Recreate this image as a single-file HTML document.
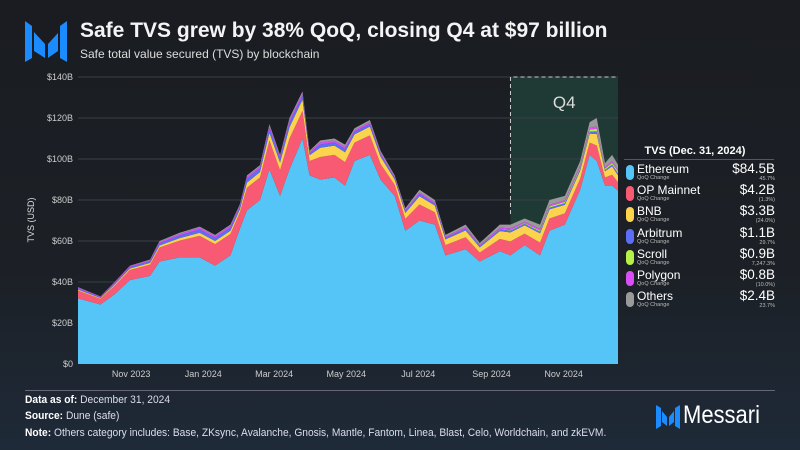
<!DOCTYPE html>
<html><head><meta charset="utf-8"><style>
body{margin:0;width:800px;height:450px;overflow:hidden;background:linear-gradient(180deg,#1a1c21 0%,#1c2026 60%,#1e2a38 100%);font-family:"Liberation Sans",sans-serif;color:#fff;position:relative}
.t{position:absolute;white-space:nowrap}
.foot{font-size:11px;color:#dde;transform:scaleX(0.93);transform-origin:left}
.foot b{color:#fff}
</style></head><body>
<svg width="800" height="450" style="position:absolute;left:0;top:0">
<polygon points="25,21 32,26 32,58 25,62" fill="#1a8cff"/>
<polygon points="34,32 45,44 45,58 34,51" fill="#1a8cff"/>
<polygon points="48,44 58,33 58,51 48,58" fill="#1a8cff"/>
<polygon points="60,26 67,21 67,62 60,58" fill="#1a8cff"/>
</svg>
<div class="t" style="left:80px;top:19px;font-size:21px;font-weight:bold;color:#f4f4f4">Safe TVS grew by 38% QoQ, closing Q4 at $97 billion</div>
<div class="t" style="left:80px;top:47px;font-size:12px;color:#ddd">Safe total value secured (TVS) by blockchain</div>
<svg id="chart" width="800" height="450" style="position:absolute;left:0;top:0"></svg>
<div class="t" style="left:630px;top:145px;font-size:11px;font-weight:bold;width:130px;text-align:center">TVS (Dec. 31, 2024)</div>
<div style="position:absolute;left:624px;top:159px;width:150px;height:1px;background:#556"></div>
<div id="legend"></div>
<div style="position:absolute;left:25px;top:390px;width:750px;height:1px;background:#667"></div>
<div class="t foot" style="left:25px;top:394px"><b>Data as of:</b> December 31, 2024</div>
<div class="t foot" style="left:25px;top:410px"><b>Source:</b> Dune (safe)</div>
<div class="t foot" style="left:25px;top:427px"><b>Note:</b> Others category includes: Base, ZKsync, Avalanche, Gnosis, Mantle, Fantom, Linea, Blast, Celo, Worldchain, and zkEVM.</div>
<svg width="40" height="30" style="position:absolute;left:654px;top:404px">
<polygon points="2,1 7,4 7,22 2,25" fill="#1a8cff"/><polygon points="8,7 13,13 13,22 8,18" fill="#1a8cff"/>
<polygon points="15,13 20,7 20,18 15,22" fill="#1a8cff"/><polygon points="21,4 26,1 26,25 21,22" fill="#1a8cff"/></svg>
<div class="t" style="left:683px;top:401px;font-size:25px;color:#fff;transform:scaleX(0.88);transform-origin:left">Messari</div>
<script>
const days=[0,19,31,44,61,69,86,103,116,129,137,143,154,162,171,179,190,196,205,217,226,234,247,256,268,277,289,302,311,328,340,357,366,378,391,399,412,425,433,439,446,452,457];
const eth=[32,29,34,41,43,50,52,52,48,53,66,75,80,95,82,95,110,92,90,91,87,99,102,90,82,65,70,68,53,56,50,55,53,58,53,65,68,85,102,99,87,87,84.5];
const op=[3.8,2.8,4.2,4.9,5.5,6.8,8.2,10.5,10.5,10.4,8,11,11,14,12.5,15,13.5,7,11,11,11.5,9,9.5,7.6,5.4,5.8,7.8,6,5,5.8,4.3,6,6.8,5.6,6.2,6,5.5,5.4,6,7.6,4,5.3,4.2];
const bnb=[.5,.4,.6,.7,.8,1,1.2,1.5,1.5,1.6,1.5,2.5,2.6,3.8,3.8,5.5,5.5,2.8,4.5,4.5,4.8,4,4.3,3.6,2.6,2.9,4,3.3,2.8,3.4,2.6,3.8,4.4,4,4.5,4.4,4.1,4,4.4,5.6,3,4.1,3.3];
const arb=[.6,.4,.6,.7,.8,1.1,1.3,1.6,1.6,1.6,1.3,2,1.9,2.3,2,2.3,2,1,1.6,1.6,1.6,1.3,1.3,1.1,.8,.8,1.1,.9,.7,.8,.6,.8,.9,.8,.9,.9,.9,.9,1,1.3,.7,.9,1.1];
const scroll=[0,0,0,0,0,0,0,0,0,0,0,0,0,0,0,0,0,0,0,0,0,0,0,0,0,0,0,0,0,.1,.1,.2,.3,.3,.5,.6,.6,.7,.9,1.2,.6,.8,.9];
const polygon=[.4,.3,.4,.5,.6,.7,.8,.9,.9,.9,.7,.9,.9,1.1,1,1.2,1,.6,1,1,1,.8,.9,.8,.5,.6,.8,.7,.6,.7,.5,.7,.8,.7,.8,.8,.8,.8,.9,1.2,.6,.9,.8];
const others=[.2,.1,.2,.2,.3,.4,.5,.5,.5,.5,.5,.6,.6,.8,.7,1,1,.6,.9,.9,1.1,.9,1,.9,.7,.9,1.3,1.1,.9,1.2,.9,1.5,1.8,1.6,2.1,2.3,2.1,2.2,2.8,4.1,2.1,3,2.4];
const yTicks=[0,20,40,60,80,100,120,140];
const monthLabels=["Nov 2023","Jan 2024","Mar 2024","May 2024","Jul 2024","Sep 2024","Nov 2024"];
const monthDays=[45,106,166,227,288,350,411];
const seriesNames=["Ethereum","OP Mainnet","BNB","Arbitrum","Scroll","Polygon","Others"];
const seriesColors=["#55c5f7","#f85a74","#fcd34d","#5b6ef5","#b8f04a","#d94ef5","#9a9a9a"];
const legendValues=["$84.5B","$4.2B","$3.3B","$1.1B","$0.9B","$0.8B","$2.4B"];
const legendPct=["45.7%","(1.3%)","(24.0%)","29.7%","7,247.3%","(10.0%)","23.7%"];
const q4Start=366, totalDays=457;
const X0=78,X1=618,Y0=364,Y1=77;
const x=d=>X0+(X1-X0)*d/totalDays;
const y=v=>Y0-(Y0-Y1)*v/140;
const svg=document.getElementById('chart');const NS='http://www.w3.org/2000/svg';
function mk(t,a){const e=document.createElementNS(NS,t);for(const k in a)e.setAttribute(k,a[k]);svg.appendChild(e);return e;}
let q=mk('rect',{x:x(q4Start),y:Y1,width:X1-x(q4Start),height:Y0-Y1,fill:'#1f3a34'});


yTicks.forEach(v=>{
  if(v>0){const g=mk('line',{x1:X0,x2:X1,y1:y(v),y2:y(v),stroke:'#3a3f47','stroke-width':1});
  
  }
  const t=mk('text',{x:73,y:y(v)+3,'text-anchor':'end','font-size':9,fill:'#ccc'});t.textContent='$'+v+(v?'B':'');
  
  
});
const series=[eth,op,bnb,arb,scroll,polygon,others];
const cum=days.map(()=>0);
series.forEach((s,i)=>{
  const lower=cum.slice();s.forEach((v,j)=>cum[j]+=v);
  let d='M'+days.map((dd,j)=>x(dd)+','+y(cum[j])).join('L');
  for(let j=days.length-1;j>=0;j--)d+='L'+x(days[j])+','+y(lower[j]);
  const p=mk('path',{d:d+'Z',fill:seriesColors[i]});
  
  
});
const dl=mk('path',{d:`M${x(q4Start)},${Y0-150}V${Y1}H${X1}`,stroke:'#ccc','stroke-dasharray':'4,3',fill:'none','stroke-width':1});


const ql=mk('text',{x:(x(q4Start)+X1)/2,y:108,'text-anchor':'middle','font-size':17,fill:'#ddd'});ql.textContent='Q4';


monthLabels.forEach((m,i)=>{const t=mk('text',{x:x(monthDays[i]),y:377,'text-anchor':'middle','font-size':9,fill:'#ccc'});t.textContent=m;
  
  });
const yt=mk('text',{x:34,y:220,'text-anchor':'middle','font-size':9,fill:'#ddd',transform:'rotate(-90 34 220)'});yt.textContent='TVS (USD)';


const lg=document.getElementById('legend');
seriesNames.forEach((n,i)=>{
  const top=163+i*21.2;
  const e=document.createElement('div');
  
  
  e.style.cssText=`position:absolute;left:624px;top:${top}px;width:151px;height:20px`;
  e.innerHTML=`<div style="position:absolute;left:2px;top:2px;width:8px;height:15px;border-radius:4px;background:${seriesColors[i]}"></div>
  <div class="t" style="left:13px;top:-1px;font-size:12px">${n}</div>
  <div class="t" style="left:13px;top:12px;font-size:5.5px;color:#bbb">QoQ Change</div>
  <div class="t" style="right:0;top:-2px;font-size:13.5px">${legendValues[i]}</div>
  <div class="t" style="right:0;top:13px;font-size:5.5px;color:#bbb">${legendPct[i]}</div>`;
  lg.appendChild(e);
});
</script>
</body></html>
